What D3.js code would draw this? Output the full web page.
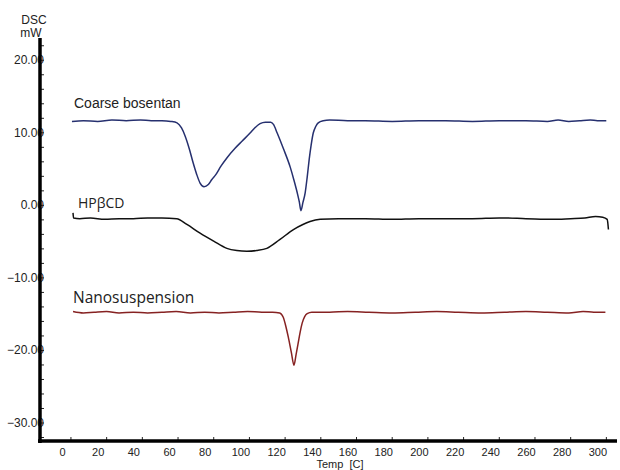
<!DOCTYPE html>
<html>
<head>
<meta charset="utf-8">
<script src="https://cdn.jsdelivr.net/npm/d3@7"></script>
<style>
  body { margin: 0; background: #fff; }
  text { font-family: Arial, "Liberation Sans", sans-serif; fill: #222; }
</style>
</head>
<body>
<svg id="dsc_svg"></svg>
<script>
// thermogram values (temp in C, heat flow in mW)
const bosentanTemp = [5.6, 12, 20, 28, 36, 44, 50, 56, 61, 64.5, 67, 69, 71.5, 73.5, 75.5, 77.4, 79.6, 82, 84, 86, 89, 92.5, 97, 101, 105.4, 108, 111, 114, 117, 118.5, 120.6, 124, 127.9, 130, 131.8, 133, 133.9, 135, 136.3, 137.4, 138.5, 139.6, 140.8, 142.2, 143.6, 146.4, 150, 160, 170, 185, 200, 215, 230, 245, 260, 272, 278, 284, 290, 296, 300, 305];
const bosentanDsc = [11.5, 11.6, 11.5, 11.7, 11.6, 11.7, 11.6, 11.6, 11.5, 11.3, 10.6, 9.5, 7.6, 5.8, 4.2, 3.0, 2.5, 2.8, 3.5, 4.1, 5.3, 6.5, 7.8, 8.8, 9.9, 10.6, 11.2, 11.4, 11.4, 11.1, 9.9, 7.8, 5.2, 3.4, 1.7, 0.4, -0.8, 0.3, 1.7, 3.8, 6.2, 8.2, 9.9, 10.8, 11.3, 11.6, 11.7, 11.6, 11.6, 11.5, 11.6, 11.6, 11.5, 11.6, 11.6, 11.5, 11.7, 11.5, 11.6, 11.7, 11.6, 11.6];

const hpbcdTemp = [6.2, 6.5, 10, 16, 24, 32, 40, 48, 56, 64.3, 70, 77.4, 85, 92.4, 98, 103.6, 109, 114.8, 122, 129.7, 135, 139, 144.7, 155, 170, 185, 200, 215, 230, 245, 260, 275, 285, 293, 299, 303, 305.5, 306.2];
const hpbcdDsc = [-1.1, -1.8, -1.9, -1.8, -2.0, -1.9, -1.9, -1.8, -1.8, -1.9, -2.7, -3.9, -5.0, -6.0, -6.3, -6.4, -6.3, -6.0, -4.8, -3.4, -2.7, -2.3, -2.0, -1.9, -1.9, -2.0, -1.9, -1.9, -1.9, -1.8, -1.9, -2.0, -1.9, -1.8, -1.6, -1.7, -2.0, -3.4];

const nanoTemp = [6.2, 12, 18, 25, 32, 40, 48, 56, 64, 72, 80, 88, 96, 104, 112, 118, 122, 124, 125.5, 126.8, 128.5, 130, 131.2, 132.4, 133.5, 134.6, 136, 137.4, 140, 150, 160, 172, 185, 198, 210, 222, 235, 248, 260, 272, 284, 292, 298, 304.5];
const nanoDsc = [-14.7, -14.9, -14.8, -14.7, -14.9, -14.8, -14.9, -14.8, -14.7, -14.9, -14.8, -14.9, -14.8, -14.7, -14.8, -14.8, -14.9, -15.5, -16.8, -18.2, -20.3, -22.1, -20.6, -19.0, -17.5, -16.3, -15.4, -15.0, -14.8, -14.8, -14.7, -14.8, -14.9, -14.8, -14.7, -14.8, -14.9, -14.8, -14.7, -14.8, -14.9, -14.7, -14.8, -14.8];

// axis ticks
const xTicks = [0, 20, 40, 60, 80, 100, 120, 140, 160, 180, 200, 220, 240, 260, 280, 300];
const yMajorTicks = [-30, -20, -10, 0, 10, 20];
const yMinorStep = 2;

const seriesNames = ["Coarse bosentan", "HP\u03b2CD", "Nanosuspension"];

let width = 620;
let height = 470;

let svg = d3.select("#dsc_svg")
    .attr("width", width)
    .attr("height", height)
    .style("background-color", "white");

let x = d3.scaleLinear().domain([-12.3, 311]).range([40, 617]);
let y = d3.scaleLinear().domain([-32.55, 23]).range([441, 38]);

// every 2 mW gets a small tick, labels only on the 10s
let yTicks = d3.range(-32, 23, yMinorStep);

let line = d3.line()
    .x(d => x(d[0]))
    .y(d => y(d[1]))
    .curve(d3.curveMonotoneX);

let series = [
    {temp: bosentanTemp, dsc: bosentanDsc, color: "#26306f"},
    {temp: hpbcdTemp, dsc: hpbcdDsc, color: "#111111"},
    {temp: nanoTemp, dsc: nanoDsc, color: "#862222"}
];

svg.selectAll("path.curve")
    .data(series)
    .enter()
    .append("path")
    .attr("class", "curve")
    .attr("d", s => line(d3.zip(s.temp, s.dsc)))
    .attr("fill", "none")
    .attr("stroke", s => s.color)
    .attr("stroke-width", 1.5)
    .attr("stroke-linejoin", "round");

// y axis, ticks point inward
let yAxis = svg.append("g")
    .attr("transform", "translate(40,0)")
    .call(d3.axisLeft(y)
        .tickValues(yTicks)
        .tickSizeInner(-4)
        .tickSizeOuter(0)
        .tickPadding(-4)
        .tickFormat(d => yMajorTicks.includes(d) ? d3.format(".2f")(d) : ""));

yAxis.selectAll("text").style("font-size", "12px").attr("fill", "#222");
yAxis.selectAll(".tick line").attr("stroke", "#222");
yAxis.select(".domain").remove();

// x axis
let xAxis = svg.append("g")
    .attr("transform", "translate(0,441)")
    .call(d3.axisBottom(x)
        .tickValues(xTicks)
        .tickSizeInner(-4)
        .tickSizeOuter(0)
        .tickPadding(7));

xAxis.selectAll("text").style("font-size", "11px").attr("fill", "#222");
// the tick marks sit a little right of their labels in the original
xAxis.selectAll(".tick line").attr("stroke", "#222").attr("transform", "translate(8.5,0)");
xAxis.select(".domain").remove();

// heavy axis lines drawn last so they cover the end of the y labels
let [xLeft, xRight] = x.range();
let [yBottom, yTop] = y.range();
svg.append("line")
    .attr("x1", xLeft).attr("x2", xLeft)
    .attr("y1", yTop).attr("y2", yBottom + 2)
    .attr("stroke", "#000").attr("stroke-width", 3.5);
svg.append("line")
    .attr("x1", xLeft - 2).attr("x2", xRight)
    .attr("y1", yBottom).attr("y2", yBottom)
    .attr("stroke", "#000").attr("stroke-width", 3.5);

// axis titles
svg.append("text").attr("x", 34).attr("y", 24)
    .attr("text-anchor", "middle").style("font-size", "12px").text("DSC");
svg.append("text").attr("x", 31).attr("y", 37)
    .attr("text-anchor", "middle").style("font-size", "12px").text("mW");
svg.append("text").attr("x", 340).attr("y", 468)
    .attr("text-anchor", "middle").style("font-size", "11px")
    .style("white-space", "pre").text("Temp  [C]");

// curve names
svg.append("text").attr("x", 74).attr("y", 108)
    .style("font-size", "14px").text(seriesNames[0]);
svg.append("text").attr("x", 78).attr("y", 208)
    .style("font-family", "'Open Sans', sans-serif")
    .style("font-size", "14px").text(seriesNames[1]);
svg.append("text").attr("x", 73).attr("y", 303)
    .style("font-family", "'Open Sans', sans-serif")
    .style("font-size", "15.5px").text(seriesNames[2]);
</script>
</body>
</html>
